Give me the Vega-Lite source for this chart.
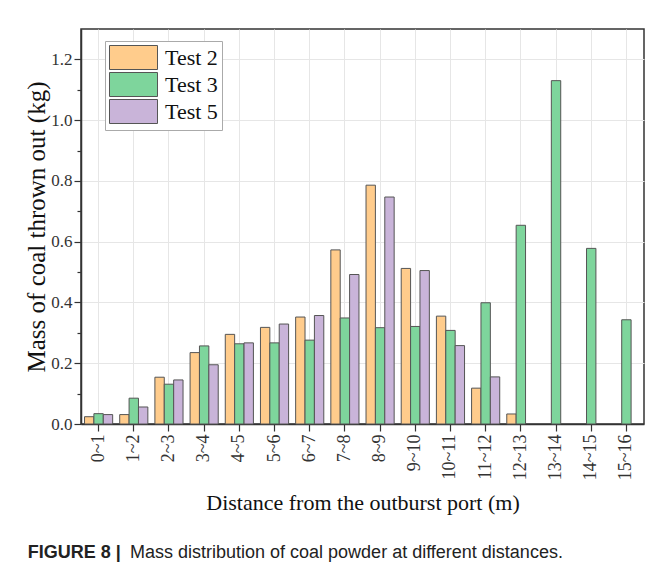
{
  "$schema": "https://vega.github.io/schema/vega-lite/v6.json",
  "background": "white",
  "padding": {"left": 24, "top": 28, "right": 0, "bottom": 5},
  "title": {
    "text": "Mass distribution of coal powder at different distances.",
    "orient": "bottom",
    "anchor": "start",
    "font": "Liberation Sans",
    "fontSize": 18,
    "fontWeight": "normal",
    "color": "#222",
    "offset": -18,
    "dx": 106
  },
  "config": {
    "view": {"stroke": "#333", "strokeWidth": 1.5},
    "axis": {
      "domainColor": "#333",
      "domainWidth": 1.5,
      "tickColor": "#333",
      "tickWidth": 1.2,
      "gridColor": "#e6e6e6",
      "gridWidth": 1,
      "labelFont": "Liberation Serif",
      "titleFont": "Liberation Serif",
      "labelColor": "#333",
      "titleColor": "#111",
      "titleFontWeight": "normal"
    }
  },
  "vconcat": [
    {
      "width": 563,
      "height": 395,
      "title": {
        "text": "FIGURE 8 |",
        "orient": "bottom",
        "anchor": "start",
        "frame": "bounds",
        "font": "Liberation Sans",
        "fontSize": 18,
        "fontWeight": "bold",
        "color": "#222",
        "offset": 30,
        "dx": 3
      },
      "data": {
        "values": [
          {"d": "0~1", "t": "Test 2", "v": 0.024},
          {"d": "0~1", "t": "Test 3", "v": 0.034},
          {"d": "0~1", "t": "Test 5", "v": 0.031},
          {"d": "1~2", "t": "Test 2", "v": 0.031},
          {"d": "1~2", "t": "Test 3", "v": 0.085},
          {"d": "1~2", "t": "Test 5", "v": 0.056},
          {"d": "2~3", "t": "Test 2", "v": 0.154},
          {"d": "2~3", "t": "Test 3", "v": 0.131},
          {"d": "2~3", "t": "Test 5", "v": 0.145},
          {"d": "3~4", "t": "Test 2", "v": 0.235},
          {"d": "3~4", "t": "Test 3", "v": 0.257},
          {"d": "3~4", "t": "Test 5", "v": 0.195},
          {"d": "4~5", "t": "Test 2", "v": 0.295},
          {"d": "4~5", "t": "Test 3", "v": 0.264},
          {"d": "4~5", "t": "Test 5", "v": 0.267},
          {"d": "5~6", "t": "Test 2", "v": 0.318},
          {"d": "5~6", "t": "Test 3", "v": 0.267},
          {"d": "5~6", "t": "Test 5", "v": 0.329},
          {"d": "6~7", "t": "Test 2", "v": 0.352},
          {"d": "6~7", "t": "Test 3", "v": 0.276},
          {"d": "6~7", "t": "Test 5", "v": 0.357},
          {"d": "7~8", "t": "Test 2", "v": 0.573},
          {"d": "7~8", "t": "Test 3", "v": 0.349},
          {"d": "7~8", "t": "Test 5", "v": 0.492},
          {"d": "8~9", "t": "Test 2", "v": 0.786},
          {"d": "8~9", "t": "Test 3", "v": 0.317},
          {"d": "8~9", "t": "Test 5", "v": 0.747},
          {"d": "9~10", "t": "Test 2", "v": 0.512},
          {"d": "9~10", "t": "Test 3", "v": 0.321},
          {"d": "9~10", "t": "Test 5", "v": 0.505},
          {"d": "10~11", "t": "Test 2", "v": 0.355},
          {"d": "10~11", "t": "Test 3", "v": 0.308},
          {"d": "10~11", "t": "Test 5", "v": 0.258},
          {"d": "11~12", "t": "Test 2", "v": 0.118},
          {"d": "11~12", "t": "Test 3", "v": 0.399},
          {"d": "11~12", "t": "Test 5", "v": 0.155},
          {"d": "12~13", "t": "Test 2", "v": 0.033},
          {"d": "12~13", "t": "Test 3", "v": 0.654},
          {"d": "13~14", "t": "Test 3", "v": 1.13},
          {"d": "14~15", "t": "Test 3", "v": 0.578},
          {"d": "15~16", "t": "Test 3", "v": 0.343}
        ]
      },
      "mark": {"type": "bar", "stroke": "#555", "strokeWidth": 1},
      "encoding": {
        "x": {
          "field": "d",
          "type": "nominal",
          "sort": null,
          "scale": {"paddingInner": 0.2, "paddingOuter": 0.1},
          "axis": {
            "title": "Distance from the outburst port (m)",
            "titleFontSize": 22,
            "titlePadding": 13,
            "labelAngle": -90,
            "labelFontSize": 18,
            "labelPadding": 3,
            "labelAlign": "right",
            "labelBaseline": "middle",
            "tickSize": 7,
            "grid": true
          }
        },
        "xOffset": {
          "field": "t",
          "type": "nominal",
          "sort": ["Test 2", "Test 3", "Test 5"],
          "scale": {"domain": ["Test 2", "Test 3", "Test 5"], "paddingInner": 0, "paddingOuter": 0}
        },
        "y": {
          "field": "v",
          "type": "quantitative",
          "scale": {"domain": [0, 1.3], "nice": false},
          "axis": {
            "title": "Mass of coal thrown out (kg)",
            "titleFontSize": 25,
            "titlePadding": 1,
            "labelFontSize": 17,
            "labelPadding": 2,
            "values": [0, 0.1, 0.2, 0.3, 0.4, 0.5, 0.6, 0.7, 0.8, 0.9, 1.0, 1.1, 1.2],
            "labelExpr": "round(datum.value * 10) % 2 == 0 ? format(datum.value, '.1f') : ''",
            "tickSize": {"condition": {"test": "round(datum.value * 10) % 2 == 0", "value": 7}, "value": 4},
            "gridOpacity": {"condition": {"test": "round(datum.value * 10) % 2 == 0", "value": 1}, "value": 0},
            "grid": true
          }
        },
        "color": {
          "field": "t",
          "type": "nominal",
          "scale": {"domain": ["Test 2", "Test 3", "Test 5"], "range": ["#FFCC8C", "#7ED59C", "#C9B4D9"]},
          "legend": {
            "title": null,
            "orient": "none",
            "legendX": 24,
            "legendY": 12,
            "padding": 4,
            "fillColor": "white",
            "strokeColor": "#aaa",
            "symbolType": "M-1,-1H3V1H-1Z",
            "symbolSize": 576,
            "symbolStrokeColor": "#555",
            "symbolStrokeWidth": 1,
            "symbolOpacity": 1,
            "labelFont": "Liberation Serif",
            "labelFontSize": 22,
            "labelColor": "#111",
            "labelOffset": 31,
            "rowPadding": -2
          }
        }
      }
    }
  ]
}
